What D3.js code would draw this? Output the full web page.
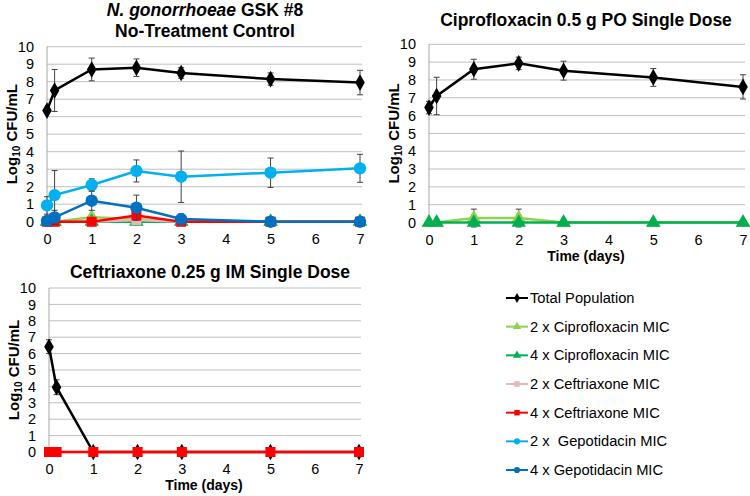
<!DOCTYPE html>
<html>
<head>
<meta charset="utf-8">
<script src="https://cdn.jsdelivr.net/npm/d3@7"></script>
<style>
  body { margin: 0; background: #fff; }
  svg { font-family: "Liberation Sans", Arial, sans-serif; }
</style>
</head>
<body>
<svg id="chart" width="750" height="496"></svg>
<script>
// time points (days)
const days = [0, 0.17, 1, 2, 3, 5, 7];
const xTicks = [0, 1, 2, 3, 4, 5, 6, 7];
const yTicks = [0, 1, 2, 3, 4, 5, 6, 7, 8, 9, 10];

// No-treatment control
const ctrlTotal = [6.35, 7.5, 8.7, 8.8, 8.5, 8.15, 7.95];
const ctrlTotalErr = [0.1, 1.2, 0.65, 0.5, 0.3, 0.35, 0.7];
const ctrlCipro2 = [0, 0, 0.25, 0.15, 0, 0, 0];
const ctrlCipro4 = [0, 0, 0, 0, 0, 0, 0];
const ctrlCeft2 = [0, 0, 0, 0.1, 0, 0, 0];
const ctrlCeft4 = [0, 0, 0, 0.35, 0, 0, 0];
const ctrlGepo2 = [0.93, 1.52, 2.1, 2.9, 2.57, 2.8, 3.05];
const ctrlGepo2Err = [0.5, 1.4, 0.35, 0.63, 1.47, 0.84, 0.8];
const ctrlGepo4 = [0.05, 0.25, 1.2, 0.8, 0.15, 0, 0];
const ctrlGepo4Err = [0, 0.4, 0.55, 0.72, 0.3, 0, 0];

// Ciprofloxacin 0.5 g
const ciproTotal = [6.45, 7.1, 8.6, 8.93, 8.52, 8.14, 7.61];
const ciproTotalErr = [0.35, 1.05, 0.56, 0.35, 0.53, 0.5, 0.68];
const ciproCipro2 = [0, 0, 0.25, 0.25, 0, 0, 0];
const ciproCipro2Err = [0, 0, 0.5, 0.5, 0, 0, 0];
const ciproCipro4 = [0, 0, 0, 0, 0, 0, 0];

// Ceftriaxone 0.25 g
const ceftTotal = [6.42, 3.95, 0, 0, 0, 0, 0];
const ceftTotalErr = [0.42, 0.45, 0, 0, 0, 0, 0];
const ceftCeft2 = [0, 0, 0, 0, 0, 0, 0];
const ceftCeft4 = [0, 0, 0, 0, 0, 0, 0];

// series styles (legend order)
const styles = {
  total:  {name: "Total Population",       color: "#000000", shape: "diamond"},
  cipro2: {name: "2 x Ciprofloxacin MIC",  color: "#92d050", shape: "triangle"},
  cipro4: {name: "4 x Ciprofloxacin MIC",  color: "#00b050", shape: "triangle"},
  ceft2:  {name: "2 x Ceftriaxone MIC",    color: "#e6b9b8", shape: "square"},
  ceft4:  {name: "4 x Ceftriaxone MIC",    color: "#ff0000", shape: "square"},
  gepo2:  {name: "2 x  Gepotidacin MIC",   color: "#00b0f0", shape: "circle"},
  gepo4:  {name: "4 x Gepotidacin MIC",    color: "#0070c0", shape: "circle"}
};

const panels = [
  {left: 47, right: 360, top: 46.7, bottom: 221.7, xLabel: false,
   series: [
     {key: "total", y: ctrlTotal, err: ctrlTotalErr},
     {key: "cipro2", y: ctrlCipro2},
     {key: "cipro4", y: ctrlCipro4},
     {key: "ceft2", y: ctrlCeft2},
     {key: "ceft4", y: ctrlCeft4},
     {key: "gepo2", y: ctrlGepo2, err: ctrlGepo2Err},
     {key: "gepo4", y: ctrlGepo4, err: ctrlGepo4Err}
   ]},
  {left: 429, right: 743, top: 44.3, bottom: 222.5, xLabel: true, titleY: 26, titleX: 586,
   title: "Ciprofloxacin 0.5 g PO Single Dose",
   series: [
     {key: "total", y: ciproTotal, err: ciproTotalErr},
     {key: "cipro2", y: ciproCipro2, err: ciproCipro2Err},
     {key: "cipro4", y: ciproCipro4}
   ]},
  {left: 49, right: 359, top: 288, bottom: 452, xLabel: true, titleY: 278, titleX: 210,
   title: "Ceftriaxone 0.25 g IM Single Dose",
   series: [
     {key: "total", y: ceftTotal, err: ceftTotalErr},
     {key: "ceft2", y: ceftCeft2},
     {key: "ceft4", y: ceftCeft4}
   ]}
];

const svg = d3.select("#chart");

function symbolFor(shape, size) {
  const t = {diamond: d3.symbolDiamond, triangle: d3.symbolTriangle,
             square: d3.symbolSquare, circle: d3.symbolCircle}[shape];
  return d3.symbol().type(t).size(size)();
}
const markerSize = {diamond: 80, triangle: 90, square: 100, circle: 120};

panels.forEach(p => {
  const g = svg.append("g");
  const x = d3.scaleLinear().domain([0, 7]).range([p.left, p.right]);
  const y = d3.scaleLinear().domain([0, 10]).range([p.bottom, p.top]);

  // gridlines
  g.selectAll(".grid").data(yTicks).enter().append("line")
    .attr("x1", p.left).attr("x2", p.right + 2)
    .attr("y1", d => y(d)).attr("y2", d => y(d))
    .attr("stroke", "#bfbfbf").attr("stroke-width", 1);
  g.append("line")
    .attr("x1", p.left).attr("x2", p.left)
    .attr("y1", p.top).attr("y2", p.bottom)
    .attr("stroke", "#a6a6a6").attr("stroke-width", 1);

  // axes (labels only)
  const yAxis = d3.axisLeft(y).tickValues(yTicks).tickSize(0).tickPadding(13)
    .tickFormat(d3.format("d"));
  const ya = g.append("g").attr("transform", `translate(${p.left},0)`).call(yAxis);
  const xAxis = d3.axisBottom(x).tickValues(xTicks).tickSize(0).tickPadding(12)
    .tickFormat(d3.format("d"));
  const xa = g.append("g").attr("transform", `translate(0,${p.bottom})`).call(xAxis);
  [ya, xa].forEach(a => {
    a.select(".domain").remove();
    a.selectAll("text").attr("font-size", 14.5).attr("fill", "#000")
      .attr("font-family", "Liberation Sans, Arial, sans-serif");
  });

  // y title
  const yt = g.append("text")
    .attr("transform", `translate(${p.left - 30},${(p.top + p.bottom) / 2}) rotate(-90)`)
    .attr("text-anchor", "middle")
    .attr("font-size", 15).attr("font-weight", "bold");
  yt.append("tspan").text("Log");
  yt.append("tspan").attr("font-size", 10).attr("dy", 3).text("10");
  yt.append("tspan").attr("dy", -3).text(" CFU/mL");

  if (p.xLabel) {
    g.append("text")
      .attr("x", (p.left + p.right) / 2).attr("y", p.bottom + 38)
      .attr("text-anchor", "middle")
      .attr("font-size", 14).attr("font-weight", "bold")
      .text("Time (days)");
  }
  if (p.title) {
    g.append("text")
      .attr("x", p.titleX).attr("y", p.titleY)
      .attr("text-anchor", "middle")
      .attr("font-size", 17.5).attr("font-weight", "bold")
      .text(p.title);
  }

  const line = d3.line().x((d, i) => x(days[i])).y(d => y(d));

  p.series.forEach(s => {
    const st = styles[s.key];
    const sg = g.append("g");
    // error bars
    if (s.err) {
      const eb = sg.selectAll(".err").data(s.y.map((v, i) => ({v, e: s.err[i], t: days[i]})).filter(d => d.e > 0))
        .enter().append("g").attr("stroke", "#404040").attr("stroke-width", 1);
      eb.append("line")
        .attr("x1", d => x(d.t)).attr("x2", d => x(d.t))
        .attr("y1", d => y(d.v - d.e)).attr("y2", d => y(d.v + d.e));
      eb.append("line")
        .attr("x1", d => x(d.t) - 3).attr("x2", d => x(d.t) + 3)
        .attr("y1", d => y(d.v + d.e)).attr("y2", d => y(d.v + d.e));
      eb.append("line")
        .attr("x1", d => x(d.t) - 3).attr("x2", d => x(d.t) + 3)
        .attr("y1", d => y(d.v - d.e)).attr("y2", d => y(d.v - d.e));
    }
    sg.append("path").datum(s.y)
      .attr("d", line)
      .attr("fill", "none").attr("stroke", st.color).attr("stroke-width", 2.5);
    sg.selectAll(".pt").data(s.y).enter().append("path")
      .attr("d", symbolFor(st.shape, markerSize[st.shape]))
      .attr("transform", (d, i) => `translate(${x(days[i])},${y(d)})`)
      .attr("fill", st.color);
  });
});

// first panel title (mixed italic)
const t1 = svg.append("text").attr("x", 205).attr("y", 16)
  .attr("text-anchor", "middle").attr("font-size", 17.5).attr("font-weight", "bold");
t1.append("tspan").attr("font-style", "italic").text("N. gonorrhoeae");
t1.append("tspan").text(" GSK #8");
svg.append("text").attr("x", 205).attr("y", 37)
  .attr("text-anchor", "middle").attr("font-size", 17.5).attr("font-weight", "bold")
  .text("No-Treatment Control");

// legend
const legendKeys = Object.keys(styles);
const lg = svg.append("g");
const legendY = d3.scalePoint().domain(legendKeys).range([298, 470]);
legendKeys.forEach(k => {
  const st = styles[k];
  const yy = legendY(k);
  lg.append("line").attr("x1", 506).attr("x2", 528).attr("y1", yy).attr("y2", yy)
    .attr("stroke", st.color).attr("stroke-width", 2);
  lg.append("path").attr("d", symbolFor(st.shape, 30))
    .attr("transform", `translate(517,${yy})`).attr("fill", st.color);
  lg.append("text").attr("x", 530).attr("y", yy + 5)
    .attr("font-size", 14.7).attr("xml:space", "preserve").style("white-space", "pre")
    .text(st.name);
});
</script>
</body>
</html>
